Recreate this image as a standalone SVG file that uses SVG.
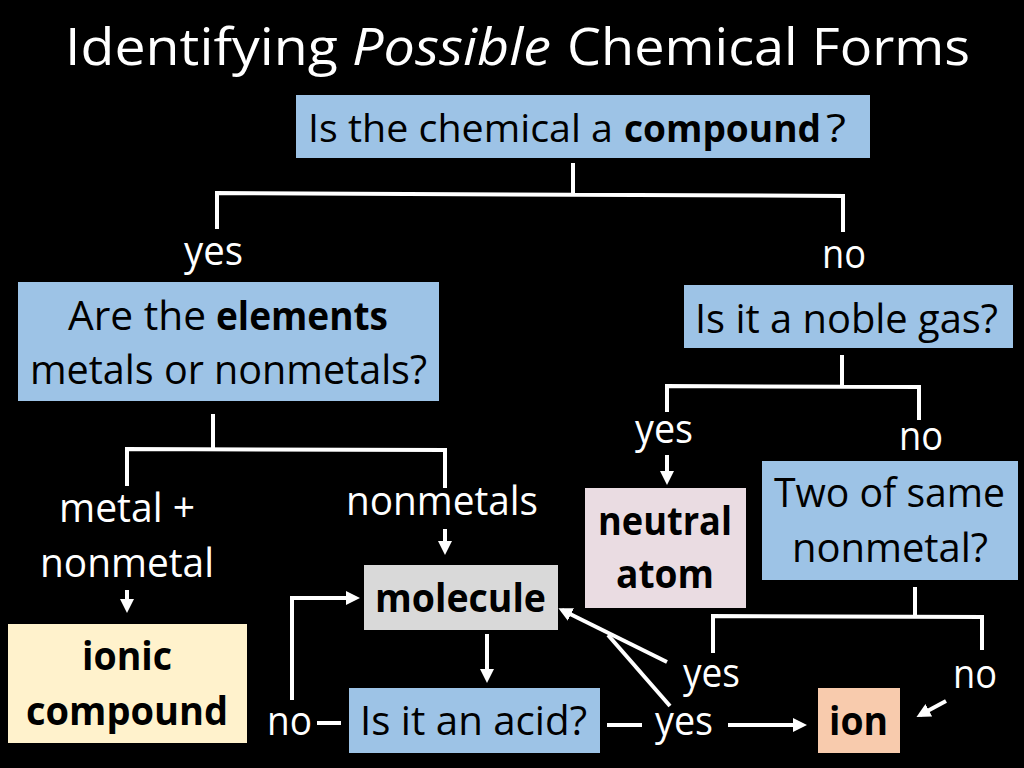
<svg xmlns="http://www.w3.org/2000/svg" width="1024" height="768" viewBox="0 0 1024 768">
<defs>
<style>
.t{font-family:"Open Sans","Noto Sans","Liberation Sans",sans-serif;font-size:40px;fill:#000}
.w{fill:#fff}
.b{font-weight:bold}
.ln{stroke:#fff;stroke-width:4;fill:none}
.blue{fill:#9DC3E6}
</style>
<marker id="ah2" markerWidth="14" markerHeight="14" refX="10" refY="7" orient="auto" markerUnits="userSpaceOnUse" viewBox="0 0 14 14">
<path d="M0,0 L14,7 L0,14 z" fill="#fff"/>
</marker>
</defs>
<rect width="1024" height="768" fill="#000"/>
<g id="title">
<text class="t w" x="65" y="65" style="font-size:52px" textLength="273" lengthAdjust="spacingAndGlyphs">Identifying</text>
<text class="t w" x="352" y="65" style="font-size:52px;font-style:italic" textLength="199" lengthAdjust="spacingAndGlyphs">Possible</text>
<text class="t w" x="567" y="65" style="font-size:52px" textLength="403" lengthAdjust="spacingAndGlyphs">Chemical Forms</text>
</g>

<g id="n-compound">
<rect class="blue" x="296" y="95" width="574" height="63"/>
<text class="t" x="308" y="142" style="font-size:39px" textLength="305" lengthAdjust="spacingAndGlyphs">Is the chemical a</text>
<text class="t b" x="624" y="142" style="font-size:37px" textLength="197" lengthAdjust="spacingAndGlyphs">compound</text>
<text class="t" x="826" y="142" style="font-size:39px" textLength="20" lengthAdjust="spacingAndGlyphs">?</text>
</g>
<g id="n-elements">
<rect class="blue" x="18" y="282" width="421" height="119"/>
<text class="t" x="68" y="330" textLength="138" lengthAdjust="spacingAndGlyphs">Are the</text>
<text class="t b" x="216" y="330" textLength="172" lengthAdjust="spacingAndGlyphs">elements</text>
<text class="t" x="30" y="384" textLength="397" lengthAdjust="spacingAndGlyphs">metals or nonmetals?</text>
</g>
<g id="n-noble">
<rect class="blue" x="684" y="285" width="329" height="63"/>
<text class="t" x="695" y="333" textLength="303" lengthAdjust="spacingAndGlyphs">Is it a noble gas?</text>
</g>
<g id="n-neutral">
<rect x="585" y="488" width="161" height="120" fill="#EADCE2"/>
<text class="t b" x="598" y="535" textLength="134" lengthAdjust="spacingAndGlyphs">neutral</text>
<text class="t b" x="616" y="588" textLength="98" lengthAdjust="spacingAndGlyphs">atom</text>
</g>
<g id="n-twosame">
<rect class="blue" x="762" y="461" width="256" height="119"/>
<text class="t" x="774" y="507" textLength="231" lengthAdjust="spacingAndGlyphs">Two of same</text>
<text class="t" x="792" y="562" textLength="196" lengthAdjust="spacingAndGlyphs">nonmetal?</text>
</g>
<g id="n-ionic">
<rect x="8" y="624" width="239" height="119" fill="#FFF2CC"/>
<text class="t b" x="82" y="670" textLength="90" lengthAdjust="spacingAndGlyphs">ionic</text>
<text class="t b" x="26" y="725" textLength="202" lengthAdjust="spacingAndGlyphs">compound</text>
</g>
<g id="n-molecule">
<rect x="364" y="565" width="194" height="65" fill="#D9D9D9"/>
<text class="t b" x="375" y="612" textLength="171" lengthAdjust="spacingAndGlyphs">molecule</text>
</g>
<g id="n-acid">
<rect class="blue" x="349" y="688" width="251" height="65"/>
<text class="t" x="360" y="735" textLength="227" lengthAdjust="spacingAndGlyphs">Is it an acid?</text>
</g>
<g id="n-ion">
<rect x="818" y="688" width="82" height="65" fill="#F8CBAD"/>
<text class="t b" x="829" y="735" textLength="59" lengthAdjust="spacingAndGlyphs">ion</text>
</g>

<g id="labels">
<text class="t w" x="184" y="265" textLength="59" lengthAdjust="spacingAndGlyphs">yes</text>
<text class="t w" x="822" y="268" textLength="44" lengthAdjust="spacingAndGlyphs">no</text>
<text class="t w" x="59" y="522" textLength="136" lengthAdjust="spacingAndGlyphs">metal +</text>
<text class="t w" x="40" y="577" textLength="174" lengthAdjust="spacingAndGlyphs">nonmetal</text>
<text class="t w" x="346" y="515" textLength="192" lengthAdjust="spacingAndGlyphs">nonmetals</text>
<text class="t w" x="635" y="443" textLength="58" lengthAdjust="spacingAndGlyphs">yes</text>
<text class="t w" x="899" y="450" textLength="44" lengthAdjust="spacingAndGlyphs">no</text>
<text class="t w" x="683" y="687" textLength="57" lengthAdjust="spacingAndGlyphs">yes</text>
<text class="t w" x="953" y="688" textLength="44" lengthAdjust="spacingAndGlyphs">no</text>
<text class="t w" x="267" y="735" textLength="45" lengthAdjust="spacingAndGlyphs">no</text>
<text class="t w" x="655" y="735" textLength="58" lengthAdjust="spacingAndGlyphs">yes</text>
</g>

<g id="connectors">
<path class="ln" d="M573,163 V194 M217,229 V193 L843,196 V232"/>
<path class="ln" d="M213,414 V448 M127,486 V449 L445,450 V488"/>
<path class="ln" d="M445,529 V551" marker-end="url(#ah2)"/>
<path class="ln" d="M127,590 V609" marker-end="url(#ah2)"/>
<path class="ln" d="M842,355 V386 M667,412 V386 L919,387 V420"/>
<path class="ln" d="M667,455 V481" marker-end="url(#ah2)"/>
<path class="ln" d="M915,587 V616 M713,653 V616 L982,617 V650"/>
<path class="ln" d="M487,634 V679" marker-end="url(#ah2)"/>
<path class="ln" d="M292,700 V598 H356" marker-end="url(#ah2)"/>
<path class="ln" d="M317,723 H341"/>
<path class="ln" d="M667,662 L562,610" marker-end="url(#ah2)"/>
<path class="ln" d="M670,706 L608,635"/>
<path class="ln" d="M607,725 H642"/>
<path class="ln" d="M728,725 H803" marker-end="url(#ah2)"/>
<path class="ln" d="M946,701 L920,715" marker-end="url(#ah2)"/>
</g>
</svg>
